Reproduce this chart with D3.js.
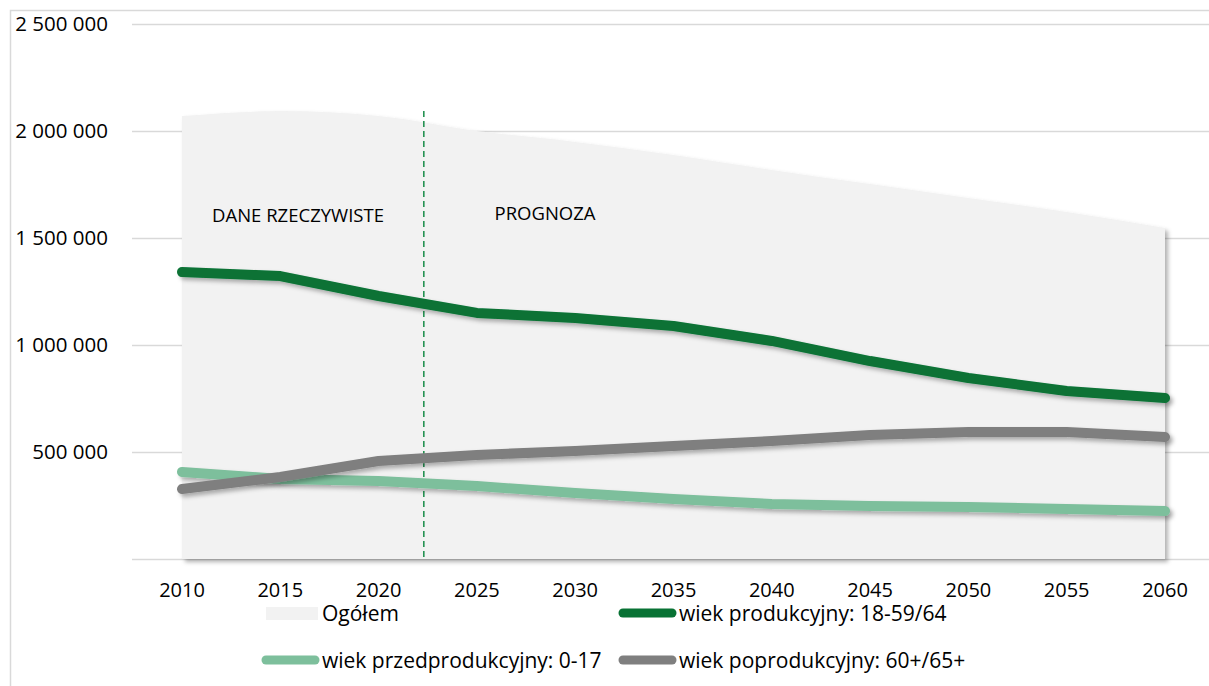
<!DOCTYPE html>
<html>
<head>
<meta charset="utf-8">
<script src="https://cdn.jsdelivr.net/npm/d3@7"></script>
<style>
  body { margin: 0; background: #fff; }
  text { font-family: "Open Sans", sans-serif; fill: #000; }
</style>
</head>
<body>
<div id="chart"></div>
<script>
// Data
//= ================================
var years = [2010, 2015, 2020, 2025, 2030, 2035, 2040, 2045, 2050, 2055, 2060];
var ogolem = [2070000, 2093000, 2070000, 2000000, 1949000, 1888000, 1818000, 1752000, 1687000, 1621000, 1547000];
var produkcyjny = [1341000, 1322000, 1229000, 1150000, 1126000, 1089000, 1019000, 925000, 846000, 785000, 752000];
var przedprodukcyjny = [407000, 374000, 364000, 341000, 308000, 280000, 257000, 248000, 243000, 234000, 224000];
var poprodukcyjny = [327000, 383000, 458000, 486000, 505000, 528000, 551000, 579000, 593000, 593000, 570000];
var yTicks = [0, 500000, 1000000, 1500000, 2000000, 2500000];
var splitYear = 2022.3;

// Setup the chart
//= ================================
var svgWidth = 1209;
var svgHeight = 686;

var svg = d3.select("#chart")
    .append("svg")
    .attr("width", svgWidth)
    .attr("height", svgHeight);

var defs = svg.append("defs");
var shadow = defs.append("filter")
    .attr("id", "shadow")
    .attr("x", "-10%").attr("y", "-10%")
    .attr("width", "130%").attr("height", "140%");
shadow.append("feDropShadow")
    .attr("dx", 3).attr("dy", 3)
    .attr("stdDeviation", 2)
    .attr("flood-color", "#000")
    .attr("flood-opacity", 0.3);

// outer border
svg.append("rect")
    .attr("x", 10.5).attr("y", 10.5)
    .attr("width", 1220).attr("height", 700)
    .attr("fill", "none")
    .attr("stroke", "#d9d9d9")
    .attr("stroke-width", 1.5);

var xScale = d3.scaleLinear()
    .domain([2010, 2060])
    .range([182, 1165]);

var yScale = d3.scaleLinear()
    .domain([0, 2500000])
    .range([559, 24]);

// gridlines
svg.append("g")
    .selectAll("line")
    .data(yTicks)
    .enter()
    .append("line")
    .attr("x1", 132)
    .attr("x2", 1209)
    .attr("y1", d => yScale(d) + 0.5)
    .attr("y2", d => yScale(d) + 0.5)
    .attr("stroke", "#d9d9d9")
    .attr("stroke-width", 1.5);

// y labels
var fmt = d => d3.format(",")(d).replace(/,/g, " ");
svg.append("g")
    .selectAll("text")
    .data(yTicks.filter(d => d > 0))
    .enter()
    .append("text")
    .attr("x", 108)
    .attr("y", d => yScale(d) + 7)
    .attr("text-anchor", "end")
    .attr("font-size", "20.5px")
    .text(fmt);

// x labels
svg.append("g")
    .selectAll("text")
    .data(years)
    .enter()
    .append("text")
    .attr("x", d => xScale(d))
    .attr("y", 597)
    .attr("text-anchor", "middle")
    .attr("font-size", "20px")
    .text(d => d);

// Ogółem area
var area = d3.area()
    .x((d, i) => xScale(years[i]))
    .y0(yScale(0))
    .y1(d => yScale(d))
    .curve(d3.curveMonotoneX);

svg.append("path")
    .datum(ogolem)
    .attr("d", area)
    .attr("fill", "#f2f2f2")
    .attr("filter", "url(#shadow)");

// labels inside area
svg.append("text")
    .attr("x", 298).attr("y", 222)
    .attr("text-anchor", "middle")
    .attr("font-size", "18.5px")
    .text("DANE RZECZYWISTE");

svg.append("text")
    .attr("x", 545).attr("y", 220)
    .attr("text-anchor", "middle")
    .attr("font-size", "18.5px")
    .text("PROGNOZA");

// split line
svg.append("line")
    .attr("x1", xScale(splitYear)).attr("x2", xScale(splitYear))
    .attr("y1", 111).attr("y2", yScale(0))
    .attr("stroke", "#188c48")
    .attr("stroke-width", 1.5)
    .attr("stroke-dasharray", "6,4");

// series lines
var line = d3.line()
    .x((d, i) => xScale(years[i]))
    .y(d => yScale(d));

var series = [
    { values: przedprodukcyjny, color: "#7dbf9c" },
    { values: poprodukcyjny, color: "#7f7f7f" },
    { values: produkcyjny, color: "#087234" }
];

svg.append("g")
    .selectAll("path")
    .data(series)
    .enter()
    .append("path")
    .attr("d", d => line(d.values))
    .attr("fill", "none")
    .attr("stroke", d => d.color)
    .attr("stroke-width", 10)
    .attr("stroke-linecap", "round")
    .attr("stroke-linejoin", "round")
    .attr("filter", "url(#shadow)");

// Legend
var legend = [
    { label: "Ogółem", color: "#f2f2f2", type: "rect", x: 262, y: 613 },
    { label: "wiek produkcyjny: 18-59/64", color: "#087234", type: "line", x: 619, y: 613 },
    { label: "wiek przedprodukcyjny: 0-17", color: "#7dbf9c", type: "line", x: 262, y: 660 },
    { label: "wiek poprodukcyjny: 60+/65+", color: "#7f7f7f", type: "line", x: 619, y: 660 }
];

var legendItems = svg.append("g")
    .selectAll("g")
    .data(legend)
    .enter()
    .append("g")
    .attr("transform", d => `translate(${d.x}, ${d.y})`);

legendItems.filter(d => d.type === "rect")
    .append("rect")
    .attr("x", 4).attr("y", -6)
    .attr("width", 52).attr("height", 13)
    .attr("fill", d => d.color);

legendItems.filter(d => d.type === "line")
    .append("line")
    .attr("x1", 4).attr("x2", 53)
    .attr("y1", 0).attr("y2", 0)
    .attr("stroke", d => d.color)
    .attr("stroke-width", 9)
    .attr("stroke-linecap", "round");

legendItems.append("text")
    .attr("x", 60)
    .attr("y", 8)
    .attr("font-size", "21px")
    .text(d => d.label);
</script>
</body>
</html>
